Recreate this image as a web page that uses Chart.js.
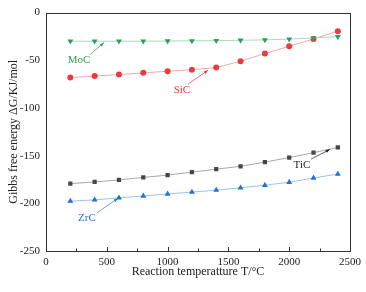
<!DOCTYPE html>
<html><head><meta charset="utf-8">
<script src="https://cdn.jsdelivr.net/npm/chart.js@4/dist/chart.umd.min.js"></script>
<style>html,body{margin:0;padding:0;background:#fff}#wrap{width:366px;height:292px}</style>
</head><body><div id="wrap"><canvas id="c"></canvas></div>
<script>
const temperatures = [200,400,600,800,1000,1200,1400,1600,1800,2000,2200,2400];
const moc = [-30,-30,-30,-30,-29.8,-29.6,-29.4,-29,-28.6,-27.8,-26.5,-25.3];
const sic = [-68,-66.6,-65,-63.2,-61.5,-59.8,-57.7,-51,-43,-35.2,-27.7,-19.5];
const tic = [-179.3,-177.6,-175.5,-172.8,-170.4,-167.3,-164.2,-161.2,-156.8,-152,-146.9,-141.4];
const zrc = [-197.7,-196.4,-194.3,-192.3,-190.2,-188.2,-186.2,-183.7,-181,-177.9,-173.4,-169.3];
const xTicks = [0,500,1000,1500,2000,2500];
const yTicks = [0,-50,-100,-150,-200,-250];
// annotation label positions and arrows in data coordinates
const labels = [
  {text:'MoC', color:'#2e9e50', x:271, y:-50, from:[362,-44], to:[477,-31.5]},
  {text:'SiC', color:'#e8323c', x:1118, y:-81, from:[1168,-75], to:[1332,-60.5]},
  {text:'TiC', color:'#222222', x:2105, y:-160, from:[2179,-153.7], to:[2335,-143.4]},
  {text:'ZrC', color:'#2a72d0', x:337, y:-216, from:[419,-210], to:[592,-194.7]}
];
const SERIF = '"Liberation Serif", "DejaVu Serif", serif';

const decor = {
  id:'decor',
  afterDraw(chart){
    const {ctx, chartArea:a, scales:{x,y}} = chart;
    ctx.save();
    ctx.strokeStyle = '#333'; ctx.lineWidth = 1;
    ctx.strokeRect(Math.round(a.left)+0.5, Math.round(a.top)+0.5, Math.round(a.right-a.left), Math.round(a.bottom-a.top));
    ctx.beginPath();
    for(let v=250; v<2500; v+=250){
      const px = Math.round(x.getPixelForValue(v))+0.5;
      const len = (v%500===0)?4:2.5;
      ctx.moveTo(px, a.bottom); ctx.lineTo(px, a.bottom-len);
    }
    ctx.stroke();
    for(const l of labels){
      ctx.fillStyle = l.color; ctx.strokeStyle = l.color;
      ctx.font = '11px '+SERIF;
      ctx.textAlign='center'; ctx.textBaseline='middle';
      ctx.fillText(l.text, x.getPixelForValue(l.x), y.getPixelForValue(l.y));
      const x1=x.getPixelForValue(l.from[0]), y1=y.getPixelForValue(l.from[1]);
      const x2=x.getPixelForValue(l.to[0]), y2=y.getPixelForValue(l.to[1]);
      ctx.lineWidth=0.7;
      ctx.beginPath(); ctx.moveTo(x1,y1); ctx.lineTo(x2,y2); ctx.stroke();
      const ang=Math.atan2(y2-y1,x2-x1), h=4.5;
      ctx.beginPath(); ctx.moveTo(x2,y2);
      ctx.lineTo(x2-h*Math.cos(ang-0.35), y2-h*Math.sin(ang-0.35));
      ctx.lineTo(x2-h*Math.cos(ang+0.35), y2-h*Math.sin(ang+0.35));
      ctx.closePath(); ctx.fill();
    }
    ctx.restore();
  }
};

function ds(label, data, color, line, style, rot, r){
  return {label, data: temperatures.map((t,i)=>({x:t,y:data[i]})), borderColor:line, backgroundColor:color,
    pointBackgroundColor:color, pointBorderColor:color, pointStyle:style, pointRadius:r||3, pointBorderWidth:0,
    pointRotation:rot||0, borderWidth:1, tension:0, fill:false};
}

new Chart(document.getElementById('c'), {
  type:'line',
  data:{datasets:[
    ds('MoC', moc, '#2e9e5a', '#a8dcb8', 'triangle', 180, 3.4),
    ds('SiC', sic, '#ee3a3f', '#f7a8aa', 'circle', 0, 3),
    ds('TiC', tic, '#474747', '#a8a8a8', 'rect', 0, 3),
    ds('ZrC', zrc, '#1f6fdc', '#9cc2f0', 'triangle', 0, 3.4)
  ]},
  options:{
    responsive:true, maintainAspectRatio:false, animation:false,
    layout:{padding:{top:7,right:16,left:0,bottom:0}},
    plugins:{legend:{display:false}, tooltip:{enabled:false}},
    scales:{
      x:{type:'linear', min:0, max:2500,
        afterBuildTicks(s){ s.ticks = xTicks.map(v=>({value:v})); },
        afterFit(s){ s.height = 41; },
        grid:{display:false, drawTicks:false}, border:{display:false},
        ticks:{padding:5, color:'#222', font:{family:SERIF, size:11}, maxRotation:0, callback:v=>String(v)},
        title:{display:true, text:'Reaction temperatture T/°C', color:'#222', font:{family:SERIF, size:12}, padding:{top:2,bottom:13}}
      },
      y:{type:'linear', min:-250, max:0,
        afterBuildTicks(s){ s.ticks = yTicks.map(v=>({value:v})); },
        afterFit(s){ s.width = 46; },
        grid:{display:false, drawTicks:false}, border:{display:false},
        ticks:{padding:6, color:'#222', font:{family:SERIF, size:11}, callback:v=>String(v)},
        title:{display:true, text:'Gibbs free energy ΔG/KJ/mol', color:'#222', font:{family:SERIF, size:12}, padding:{top:7,bottom:2}}
      }
    }
  },
  plugins:[decor]
});
</script></body></html>
